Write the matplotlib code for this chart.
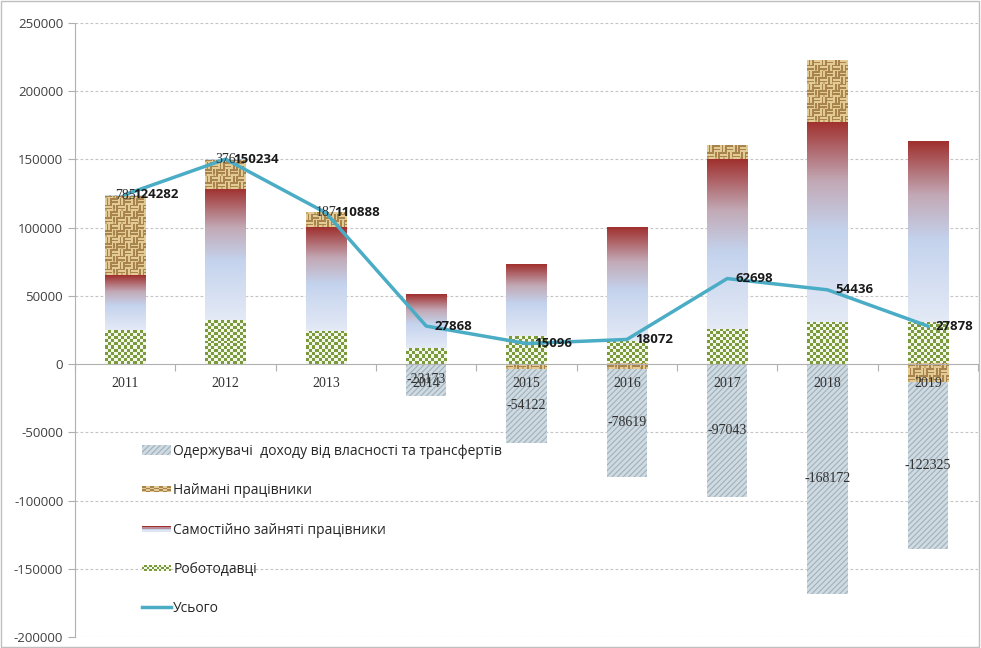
import numpy as np
import matplotlib.pyplot as plt
from matplotlib.colors import LinearSegmentedColormap, ListedColormap
from matplotlib.patches import Patch, Rectangle
from matplotlib.lines import Line2D
from matplotlib.legend_handler import HandlerBase

# ===== ДАНІ =====
years = ["2011", "2012", "2013", "2014", "2015", "2016", "2017", "2018", "2019"]
employers = [24900, 32200, 24200, 11700, 20500, 17000, 25700, 30800, 30800]
self_employed = [40300, 96100, 76200, 39341, 52218, 83491, 124341, 146600, 132603]
hired = [58297, 21558, 10301, 0, -3500, -3800, 9700, 45208, -13200]
recipients = [785, 376, 187, -23173, -54122, -78619, -97043, -168172, -122325]
total = [124282, 150234, 110888, 27868, 15096, 18072, 62698, 54436, 27878]

labels = ["Одержувачі  доходу від власності та трансфертів", "Наймані працівники",
          "Самостійно зайняті працівники", "Роботодавці", "Усього"]

SANS = ["Open Sans", "DejaVu Sans"]
SERIF = ["Liberation Serif", "DejaVu Serif"]

# ===== ПОЛОТНО =====
fig = plt.figure(figsize=(9.81, 6.48), dpi=100)
ax = fig.add_axes([0.0765, 0.017, 0.9205, 0.9475])
fig.patches.append(Rectangle((0.001, 0.001), 0.997, 0.997, transform=fig.transFigure,
                             fill=False, edgecolor="#bfbfbf", linewidth=1))

ymin, ymax = -200000, 250000
px_per_unit = 0.9475 * 648 / (ymax - ymin)
bar_w = 0.4
x = np.arange(len(years))

# візерунки
green_cmap = ListedColormap(["#f3f6ea", "#7a9a3c"])
burlap_cmap = ListedColormap(["#e3cb95", "#a8844c", "#c9a86a"])
grad_cmap = LinearSegmentedColormap.from_list(
    "se", [(0, "#e4eaf6"), (0.45, "#c4d3ed"), (0.7, "#c2a9b6"), (1, "#a0302e")])


def checker(h_px):
    nr = max(1, int(round(h_px / 3)))
    i, j = np.indices((nr, 13))
    return (i + j) % 2


def weave(h_px):
    nr = max(1, int(round(h_px / 1.6)))
    i, j = np.indices((nr, 25))
    block = ((i // 4) + (j // 4)) % 2
    stripe = np.where(block == 0, i % 2, j % 2)
    stripe = np.where((i % 8 == 0) & (j % 5 == 0), 2, stripe)
    return stripe


pos_base = np.zeros(len(years))
neg_base = np.zeros(len(years))


def segments(values):
    out = []
    for k, v in enumerate(values):
        if v >= 0:
            b = pos_base[k]
            pos_base[k] += v
        else:
            b = neg_base[k]
            neg_base[k] += v
        out.append((b, v))
    return out


# Роботодавці
for k, (b, v) in enumerate(segments(employers)):
    if v == 0:
        continue
    lo, hi = min(b, b + v), max(b, b + v)
    ax.imshow(checker((hi - lo) * px_per_unit), cmap=green_cmap, origin="lower",
              extent=[x[k] - bar_w / 2, x[k] + bar_w / 2, lo, hi],
              aspect="auto", interpolation="nearest", zorder=2)

# Самостійно зайняті
for k, (b, v) in enumerate(segments(self_employed)):
    if v == 0:
        continue
    lo, hi = min(b, b + v), max(b, b + v)
    ax.imshow(np.linspace(0, 1, 256).reshape(-1, 1), cmap=grad_cmap, origin="lower",
              extent=[x[k] - bar_w / 2, x[k] + bar_w / 2, lo, hi],
              aspect="auto", interpolation="bilinear", zorder=2)

# Наймані
for k, (b, v) in enumerate(segments(hired)):
    if v == 0:
        continue
    lo, hi = min(b, b + v), max(b, b + v)
    ax.imshow(weave((hi - lo) * px_per_unit), cmap=burlap_cmap, origin="lower",
              vmin=0, vmax=2,
              extent=[x[k] - bar_w / 2, x[k] + bar_w / 2, lo, hi],
              aspect="auto", interpolation="nearest", zorder=2)

# Одержувачі
plt.rcParams["hatch.linewidth"] = 0.8
rec = segments(recipients)
for k, (b, v) in enumerate(rec):
    ax.bar(x[k], v, bottom=b, width=bar_w, color="#cfdae1", edgecolor="#9fb1bd",
           hatch="//////", linewidth=0, zorder=2)
    ax.text(x[k], b + v / 2, str(v), ha="center", va="center", fontsize=10,
            family=SERIF, color="#303030", zorder=5)

# Усього
ax.plot(x, total, color="#4aacc5", linewidth=2.5, zorder=4)
for k, t in enumerate(total):
    ax.text(x[k] + 0.08, t, str(t), ha="left", va="center", fontsize=9.5,
            fontweight="bold", family=SANS, color="#1a1a1a", zorder=6)

# ===== ОСІ =====
ax.set_axisbelow(False)
ax.set_xlim(-0.5, len(years) - 0.5)
ax.set_ylim(ymin, ymax)
ax.set_yticks(np.arange(ymin, ymax + 1, 50000))
ax.set_yticklabels([str(v) for v in np.arange(ymin, ymax + 1, 50000)],
                   fontsize=9.5, family=SANS, color="#404040")
for yv in np.arange(ymin, ymax + 1, 50000):
    if yv != 0:
        ax.axhline(yv, color="#c4c4c4", linestyle=(0, (2.5, 2)), linewidth=0.8, zorder=0)

ax.spines["top"].set_visible(False)
ax.spines["right"].set_visible(False)
ax.spines["left"].set_color("#b0b0b0")
ax.spines["bottom"].set_position(("data", 0))
ax.spines["bottom"].set_color("#b0b0b0")
ax.tick_params(axis="y", length=5, color="#b0b0b0")
ax.set_xticks(np.arange(-0.5, len(years), 1))
ax.set_xticklabels([])
ax.tick_params(axis="x", which="major", length=5, color="#b0b0b0", direction="out")
ax.set_xticks(x, minor=True)
ax.set_xticklabels(years, minor=True, fontsize=10, family=SERIF, color="#303030")
ax.tick_params(axis="x", which="minor", length=0, pad=9)


# ===== ЛЕГЕНДА =====
class PatternHandler(HandlerBase):
    def __init__(self, kind):
        super().__init__()
        self.kind = kind

    def create_artists(self, legend, orig_handle, xd, yd, width, height, fontsize, trans):
        arts = []
        x0, y0 = -xd, -yd + height * 0.2
        h = height * 0.6
        if self.kind == "grad":
            cols = ["#dfe6f3", "#c6d3ea", "#b98c98", "#a0302e"]
            for n, c in enumerate(cols):
                arts.append(Rectangle((x0, y0 + h * n / 4), width, h / 4, facecolor=c,
                                      edgecolor="none", transform=trans))
        else:
            nc, nr = (12, 3) if self.kind == "check" else (14, 4)
            cw, ch = width / nc, h / nr
            for i in range(nr):
                for j in range(nc):
                    if self.kind == "check":
                        c = "#7a9a3c" if (i + j) % 2 else "#f3f6ea"
                    else:
                        c = "#a8844c" if (i + j // 2) % 2 else "#e3cb95"
                    arts.append(Rectangle((x0 + j * cw, y0 + i * ch), cw, ch,
                                          facecolor=c, edgecolor="none", transform=trans))
        return arts


h_rec = Patch(facecolor="#cfdae1", edgecolor="#9fb1bd", hatch="//////", linewidth=0)
h_hired = Patch(label="hired")
h_self = Patch(label="self")
h_emp = Patch(label="emp")
h_tot = Line2D([], [], color="#4aacc5", linewidth=2.5)

leg = ax.legend([h_rec, h_hired, h_self, h_emp, h_tot], labels,
                loc="upper left", bbox_to_anchor=(135 / 981, 1 - 437 / 648),
                bbox_transform=fig.transFigure, frameon=False,
                prop={"family": SANS, "size": 10}, labelspacing=1.75,
                handlelength=2.1, handletextpad=0.15, borderpad=0,
                handler_map={h_hired: PatternHandler("burlap"),
                             h_self: PatternHandler("grad"),
                             h_emp: PatternHandler("check")})
for t in leg.get_texts():
    t.set_color("#262626")
leg.set_zorder(7)

plt.savefig("out.png", dpi=100)
print("out.png")
